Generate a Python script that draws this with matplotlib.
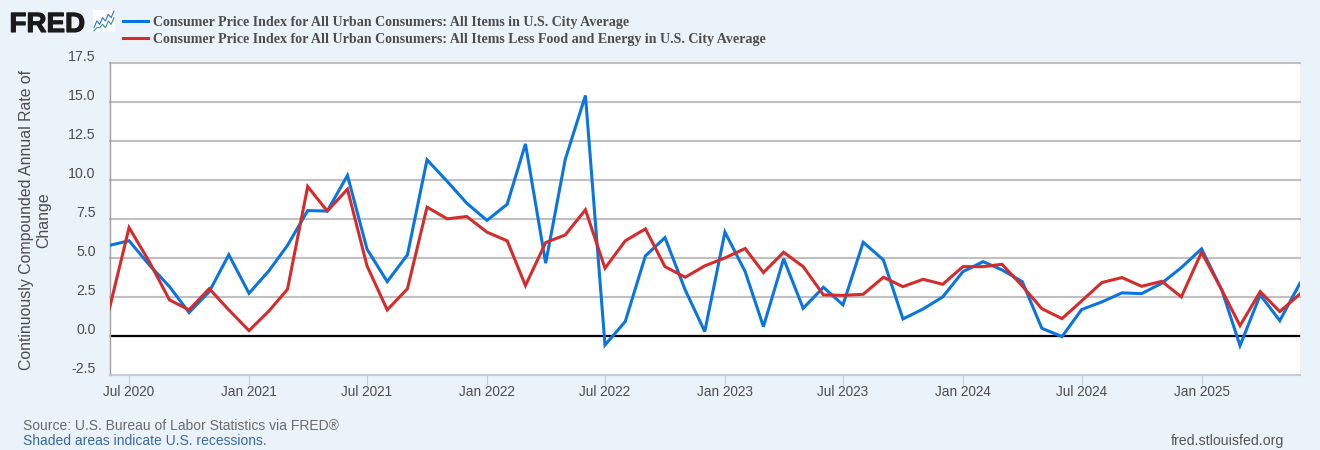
"""
Recreate FRED CPI Rate of Change Chart
"""

#---------------------------------------------------------------------------------------------------
# Import Modules
#---------------------------------------------------------------------------------------------------

import pandas as pd
import matplotlib
matplotlib.use('Agg')
import matplotlib.pyplot as plt
import matplotlib.dates as mdates
import matplotlib.patheffects as pe
import matplotlib.transforms as mtrans


#---------------------------------------------------------------------------------------------------
# Input Parameters
#---------------------------------------------------------------------------------------------------

dates = pd.date_range('2020-06-01', periods=61, freq='MS')

cpi_all = [5.8, 6.1, 4.55, 3.16, 1.5, 2.84, 5.2, 2.73, 4.2, 5.8, 8.03, 8.0, 10.28, 5.56, 3.48, 5.2,
           11.28, 9.9, 8.5, 7.4, 8.44, 12.3, 4.66, 11.3, 15.4, -0.58, 0.92, 5.13, 6.3, 2.95, 0.28,
           6.65, 4.12, 0.6, 4.94, 1.77, 3.12, 1.99, 6.0, 4.87, 1.09, 1.73, 2.5, 4.12, 4.76, 4.23,
           3.48, 0.49, -0.04, 1.69, 2.18, 2.76, 2.71, 3.38, 4.38, 5.58, 2.95, -0.62, 2.63, 0.98,
           3.38]
cpi_core = [1.77, 6.94, 4.76, 2.31, 1.67, 3.03, 1.67, 0.34, 1.62, 2.99, 9.57, 8.0, 9.4, 4.49, 1.67,
            3.03, 8.25, 7.5, 7.65, 6.65, 6.09, 3.23, 5.98, 6.47, 8.08, 4.34, 6.09, 6.86, 4.44, 3.76,
            4.49, 5.0, 5.6, 4.06, 5.36, 4.44, 2.63, 2.6, 2.67, 3.76, 3.16, 3.63, 3.31, 4.44, 4.44,
            4.59, 3.2, 1.75, 1.11, 2.24, 3.42, 3.74, 3.18, 3.5, 2.5, 5.36, 2.95, 0.66, 2.84, 1.56,
            2.69]

label_all = 'Consumer Price Index for All Urban Consumers: All Items in U.S. City Average'
label_core = 'Consumer Price Index for All Urban Consumers: All Items Less Food and Energy in U.S. City Average'

yticks = [-2.5, 0.0, 2.5, 5.0, 7.5, 10.0, 12.5, 15.0, 17.5]
ylabel = 'Continuously Compounded Annual Rate of\nChange'

# Small line icon next to the logo
icon_blue = [1, 3, 2, 4, 3, 5, 4, 6]
icon_green = [0, 1, 1, 2, 1, 3, 2, 4]

bg_color = '#EAF2FA'
axis_color = '#C0D0E0'
grid_color = '#C0C0C0'
text_color = '#4D4D4D'
blue = '#0A75E0'
red = '#D62B2B'

fig_w, fig_h = 1320, 450


#---------------------------------------------------------------------------------------------------
# Make Plot
#---------------------------------------------------------------------------------------------------

plt.rcParams['font.family'] = ['Liberation Sans', 'DejaVu Sans']

fig = plt.figure(figsize=(fig_w / 100, fig_h / 100), dpi=100, facecolor=bg_color)
ax = fig.add_axes([109.5 / fig_w, 1 - 375 / fig_h, 1190.5 / fig_w, 312.3 / fig_h])

# Gridlines and zero line
for y in yticks:
    ax.axhline(y, c=grid_color, lw=1.5, zorder=1, clip_on=False)
ax.axhline(0, c='k', lw=1.6, zorder=2)

line_all, = ax.plot(dates, cpi_all, c=blue, lw=2.2, solid_joinstyle='miter', zorder=3, label=label_all)
line_core, = ax.plot(dates, cpi_core, c=red, lw=2.2, solid_joinstyle='miter', zorder=4, label=label_core)

ax.set_xlim(dates[0], dates[-1])
ax.set_ylim(-2.5, 17.5)

ax.set_yticks(yticks)
ax.set_yticklabels(['%.1f' % y for y in yticks])
ax.xaxis.set_major_locator(mdates.MonthLocator(bymonth=(1, 7)))
ax.xaxis.set_major_formatter(mdates.DateFormatter('%b %Y'))
ax.tick_params(axis='y', length=0, pad=10, labelsize=10.2, labelcolor=text_color)
ax.tick_params(axis='x', length=7, width=0.8, color=axis_color, pad=0.2, labelsize=9.8, labelcolor=text_color)

# y tick labels sit a little above their gridlines
offset = mtrans.ScaledTranslation(0, 7.2 / 100, fig.dpi_scale_trans)
for lab in ax.get_yticklabels():
    lab.set_transform(lab.get_transform() + offset)

for s in ['top', 'right']:
    ax.spines[s].set_visible(False)
ax.spines['left'].set_color('#A0A0A0')
ax.spines['left'].set_linewidth(1.0)
ax.spines['bottom'].set_color(axis_color)
ax.spines['bottom'].set_linewidth(1.2)

fig.text(35 / fig_w, 1 - 220 / fig_h, ylabel, rotation=90, ha='center', va='center', fontsize=11.4,
         color=text_color, multialignment='center', linespacing=1.2)

# Legend
fig.legend(handles=[line_all, line_core], loc='upper left', bbox_to_anchor=(123 / fig_w, 1 - 16 / fig_h),
           frameon=False, handlelength=1.78, handletextpad=0.36, labelspacing=0.3, borderpad=0,
           borderaxespad=0, labelcolor=text_color,
           prop={'family': 'Liberation Serif', 'weight': 'bold', 'size': 10.1})

# Logo
fig.text(9.5 / fig_w, 1 - 32 / fig_h, 'FRED', fontsize=20, fontweight='bold', color='#1A1A1A', va='baseline',
         path_effects=[pe.withStroke(linewidth=0.8, foreground='#1A1A1A')])
icon = fig.add_axes([93 / fig_w, 1 - 32 / fig_h, 22 / fig_w, 22 / fig_h], facecolor='white')
icon.plot(icon_blue, c='#2A6FD0', lw=0.8)
icon.plot(icon_green, c='#2A9A80', lw=0.8)
icon.set_xticks([])
icon.set_yticks([])
for s in icon.spines.values():
    s.set_visible(False)

# Footer
fig.text(23 / fig_w, 1 - 426 / fig_h, 'Source: U.S. Bureau of Labor Statistics via FRED\u00ae', fontsize=10.03,
         color='#6B6B6B', va='center')
fig.text(23 / fig_w, 1 - 441 / fig_h, 'Shaded areas indicate U.S. recessions.', fontsize=10.0,
         color='#3A68A8', va='center')
fig.text(1284 / fig_w, 1 - 441 / fig_h, 'fred.stlouisfed.org', fontsize=10.2, color='#555555', ha='right', va='center')

plt.savefig('out.png', dpi=100, facecolor=fig.get_facecolor())
plt.close(fig)

"""
End plot.py
"""
